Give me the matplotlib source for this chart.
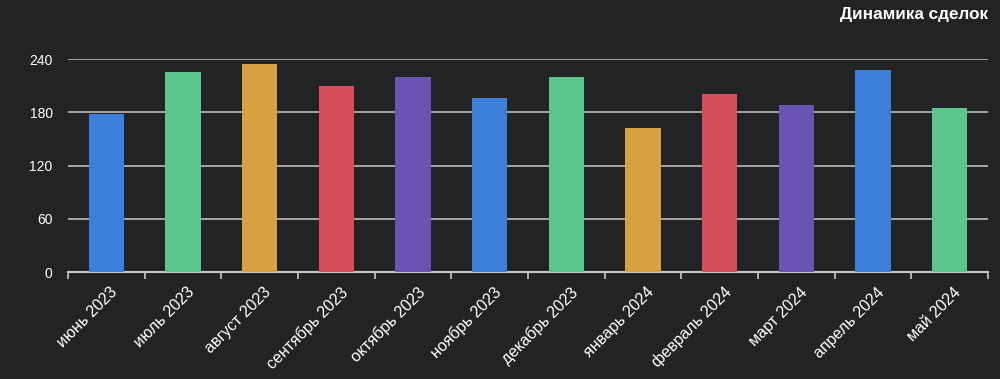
import matplotlib.pyplot as plt
import numpy as np

plt.rcParams['font.family'] = ['Liberation Sans', 'DejaVu Sans']

months = ['июнь 2023', 'июль 2023', 'август 2023', 'сентябрь 2023',
          'октябрь 2023', 'ноябрь 2023', 'декабрь 2023', 'январь 2024',
          'февраль 2024', 'март 2024', 'апрель 2024', 'май 2024']
deals = [178, 225, 235, 210, 220, 196, 220, 162, 201, 188, 228, 185]
palette = ['#3a80d9', '#5cc78c', '#d9a040', '#d44e5c', '#6b53b4']
y_ticks = [0, 60, 120, 180, 240]

bg = '#222325'
fig = plt.figure(figsize=(10, 3.79), dpi=100, facecolor=bg)
ax = fig.add_axes([0.068, 0.282, 0.920, 0.562], facecolor=bg)

x = np.arange(len(months))
colors = [palette[i % len(palette)] for i in x]
ax.bar(x, deals, width=0.46, color=colors, zorder=3)

ax.set_xlim(-0.5, len(months) - 0.5)
ax.set_ylim(0, 240)
ax.set_yticks(y_ticks)
ax.set_yticklabels([str(v) for v in y_ticks], color='white', fontsize=10)
ax.yaxis.grid(True, color='#c8c8c8', linewidth=1.1, zorder=1)
ax.tick_params(axis='y', length=0, pad=11)

# ticks at category boundaries, labels at centres
ax.set_xticks(np.arange(len(months) + 1) - 0.5)
ax.set_xticklabels([])
ax.set_xticks(x + 0.05, minor=True)
ax.set_xticklabels(months, minor=True, rotation=45, ha='right',
                   rotation_mode='anchor', color='white', fontsize=11.5)
ax.tick_params(axis='x', which='major', length=5, color='#c8c8c8', width=1.2)
ax.tick_params(axis='x', which='minor', length=0, pad=9)

for s in ['top', 'right', 'left']:
    ax.spines[s].set_visible(False)
ax.spines['bottom'].set_color('#c8c8c8')
ax.spines['bottom'].set_linewidth(1.5)

fig.text(0.988, 0.963, 'Динамика сделок', color='white', fontsize=12.3,
         fontweight='bold', ha='right', va='center')

fig.savefig('out.png', dpi=100, facecolor=bg)
